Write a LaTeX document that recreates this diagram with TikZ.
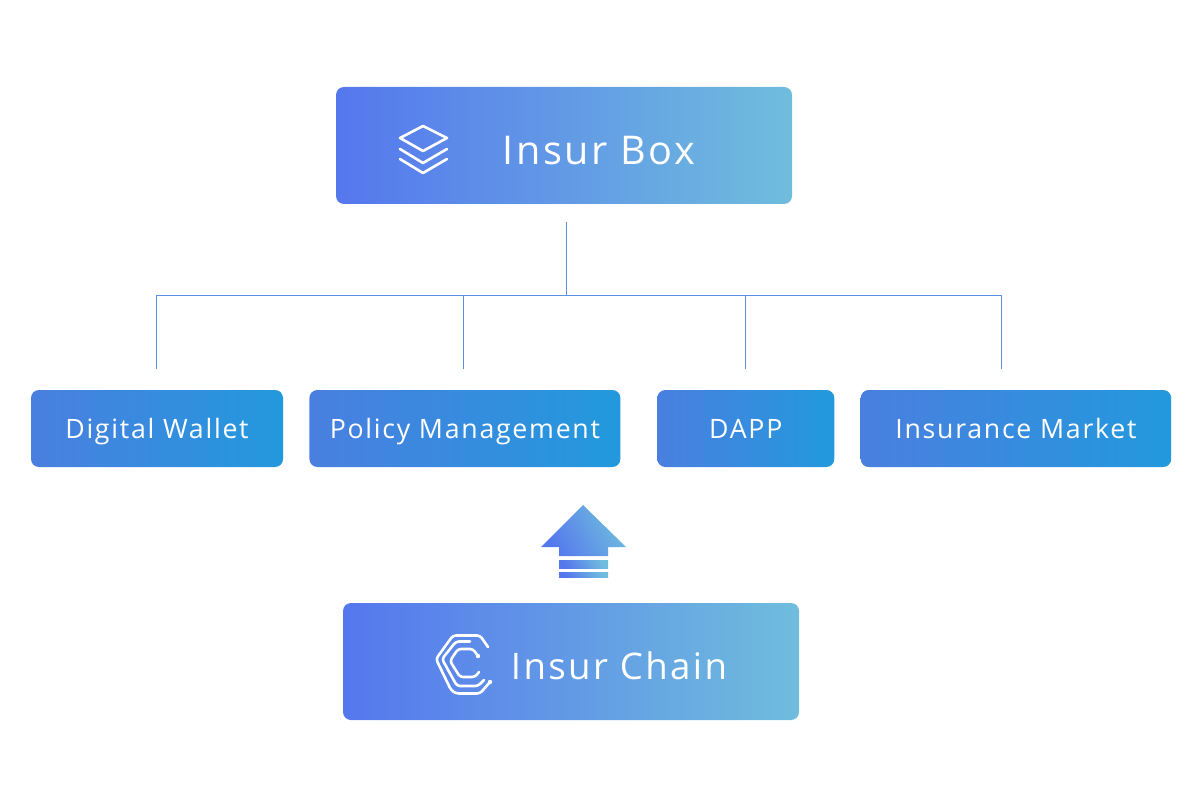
\documentclass[tikz,border=0pt]{standalone}
\usepackage{fontspec}
\usepackage{xcolor}
\setmainfont{Open Sans}
\newfontfamily\lblfont[LetterSpace=6.5]{Open Sans}
\usetikzlibrary{positioning}
\definecolor{dTopL}{RGB}{85,119,238}
\definecolor{dTopR}{RGB}{111,189,221}
\definecolor{dMidL}{RGB}{74,127,224}
\definecolor{dMidR}{RGB}{34,153,221}
\definecolor{dLine}{RGB}{91,143,224}
\tikzset{
  mainbox/.style={rectangle, rounded corners=8pt, left color=dTopL, right color=dTopR,
                  minimum height=117pt, minimum width=456pt, inner sep=0pt},
  appbox/.style={rectangle, rounded corners=8pt, left color=dMidL, right color=dMidR,
                 minimum height=77pt, inner sep=0pt, text=white, align=center,
                 text height=20.5pt, text depth=0pt,
                 font=\fontsize{26.7}{30}\selectfont\lblfont},
  mainlbl/.style={text=white, inner sep=0pt, text height=29pt, text depth=0pt,
                  font=\fontsize{39.6}{46}\selectfont\lblfont},
  chainlbl/.style={mainlbl, font=\fontsize{36.6}{46}\selectfont\lblfont},
  tree/.style={draw=dLine, line width=1pt},
  icon/.style={draw=white, line width=2.6pt, line join=round, line cap=round},
  arrowpart/.style={left color=dTopL, right color=dTopR, shading angle=120},
}
\begin{document}
\begin{tikzpicture}[x=1pt,y=-1pt]
  \useasboundingbox (0,0) rectangle (1201,786);
  \node[mainbox] (box) at (564,145.5) {};
  \node[mainlbl] (boxtxt) at (599,150) {Insur Box};
  \node[mainbox] (chain) at (571,661.5) {};
  \node[chainlbl] (chaintxt) at (619,665) {Insur Chain};

  \node[appbox,minimum width=252pt] (wallet) at (157,428.5) {Digital Wallet};
  \node[appbox,minimum width=311pt,right=26pt of wallet] (policy) {Policy Management};
  \node[appbox,minimum width=177pt,right=36.5pt of policy] (dapp) {DAPP};
  \node[appbox,minimum width=310.5pt,right=26pt of dapp] (market) {Insurance Market};

  % tree above the row, ends stay clear of the boxes
  \coordinate (root) at (566,222);
  \coordinate (bus) at (566,295);
  \coordinate (tw) at (156,369);
  \coordinate (tp) at (463,369);
  \coordinate (td) at (745,369);
  \coordinate (tm) at (1001,369);
  \draw[tree] (root) -- (bus);
  \draw[tree] (tw) |- (bus);
  \draw[tree] (tp) |- (bus);
  \draw[tree] (td) |- (bus);
  \draw[tree] (tm) |- (bus);

  % stacked layers
  \draw[icon] (423,126) -- (447,138) -- (423,151) -- (400,138) -- cycle;
  \draw[icon] (400,149) -- (423,163) -- (447,149);
  \draw[icon] (400,159) -- (423,173) -- (447,159);

  % chain logo
  \draw[icon,rounded corners=3pt] (488,647) -- (480,635.5) -- (453,635.5) -- (436,659)
    -- (451,690) -- (456,693.5) -- (480,693.5) -- (490,682);
  \draw[icon,rounded corners=3pt] (470,641.5) -- (456,641.5) -- (442,659)
    -- (457,686) -- (478,686) -- (484,680);
  \draw[icon,rounded corners=3pt] (478,656) -- (473,649) -- (458,649) -- (450,661)
    -- (460,677) -- (475,677) -- (479,672);
  \fill[white] (478,656) circle (2.2);
  \fill[white] (490,682) circle (2.2);

  % up arrow
  \path[arrowpart] (583,505) -- (626,547) -- (608,547) -- (608,556) -- (559,556)
    -- (559,547) -- (541,547) -- cycle;
  \path[arrowpart] (559,560) rectangle (608,568);
  \path[arrowpart] (559,572) rectangle (608,577);
\end{tikzpicture}
\end{document}
